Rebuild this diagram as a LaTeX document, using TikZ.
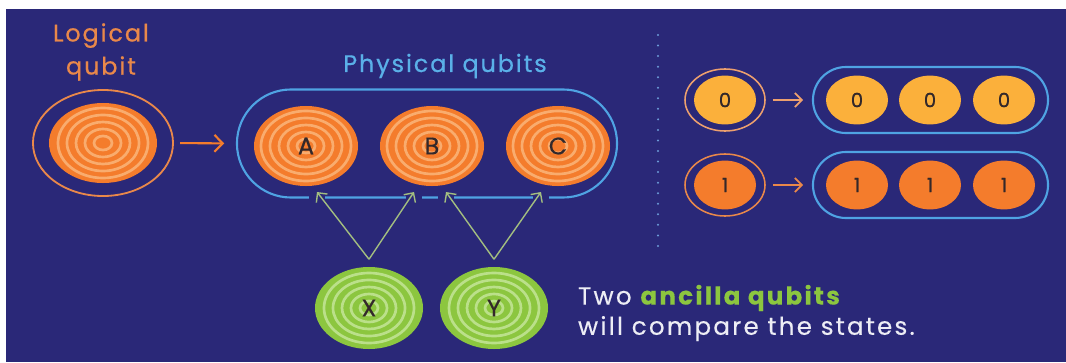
\documentclass[tikz,border=0pt]{standalone}
\usepackage{fontspec}
\setmainfont{Poppins}
\newfontfamily\widefont[LetterSpace=8,FakeBold=0.6]{Poppins}
\newfontfamily\notefont[LetterSpace=9,FakeBold=0.3]{Poppins}
\usetikzlibrary{shapes.geometric,shapes.misc,arrows.meta}
\definecolor{bgblue}{HTML}{2A2878}
\definecolor{qorange}{HTML}{F47C2C}
\definecolor{ringor}{HTML}{F9AC6E}
\definecolor{lorange}{HTML}{E9884A}
\definecolor{qgreen}{HTML}{8CC63F}
\definecolor{ringgr}{HTML}{BBE08A}
\definecolor{qyellow}{HTML}{FBB03B}
\definecolor{pblue}{HTML}{4FA3E3}
\definecolor{lblue}{HTML}{5AB0E8}
\definecolor{dotblue}{HTML}{6C9BD8}
\definecolor{arrgreen}{HTML}{A3BE80}
\definecolor{txtwhite}{HTML}{EDEDF5}
\definecolor{darktxt}{HTML}{33282A}
\begin{document}
\begin{tikzpicture}[x=0.025cm,y=-0.025cm,every node/.style={inner sep=0,outer sep=0},
	qubit/.style={ellipse,minimum width=2.6cm,minimum height=2cm,text=darktxt,font=\widefont\fontsize{17}{20}\selectfont},
	ringed/.style={path picture={\foreach \k in {1,...,5}
		\draw[#1,line width=1.9pt] (path picture bounding box.center) ellipse ({\k*0.225cm} and {\k*0.175cm});}},
	bit/.style={ellipse,minimum width=1.55cm,minimum height=1.22cm,text=darktxt,font=\widefont\fontsize{14}{16}\selectfont},
	stadium/.style={rounded rectangle,draw=pblue,line width=1.5pt},
	link/.style={-{Straight Barb[length=5pt,width=10pt]},line width=1.3pt}]
	\useasboundingbox (0,0) rectangle (1066,362);
	\fill[white] (0,0) rectangle (1066,362);
	\fill[bgblue] (6,9) rectangle (1066,362);
	% logical qubit
	\node[text=lorange,align=center,font=\widefont\fontsize{17}{23.5}\selectfont] (lqt) at (101,52) {Logical\\qubit};
	\node[ellipse,draw=lorange,line width=1.3pt,minimum width=3.5cm,minimum height=2.65cm] (lq) at (103,143) {};
	\node[qubit,fill=qorange,ringed=ringor,minimum width=2.7cm] (L) at (103,143) {};
	% physical qubits
	\node[text=lblue,font=\widefont\fontsize{17}{20}\selectfont] (pst) at (445,66) {Physical qubits};
	\node[stadium,minimum width=9.5cm,minimum height=2.7cm] (ps) at (427,143.5) {};
	\node[qubit,fill=qorange,ringed=ringor] (A) at (306,146) {A};
	\node[qubit,fill=qorange,ringed=ringor] (B) at (432,146) {B};
	\node[qubit,fill=qorange,ringed=ringor] (C) at (558,146) {C};
	\draw[link,qorange,line width=1.5pt,-{Straight Barb[length=6pt,width=12pt]},shorten <=5pt,shorten >=9pt] (lq.east) -- (ps.west);
	% ancilla qubits
	\node[qubit,fill=qgreen,ringed=ringgr,minimum width=2.7cm,minimum height=2.05cm] (X) at (369,308) {X};
	\node[qubit,fill=qgreen,ringed=ringgr,minimum width=2.7cm,minimum height=2.05cm] (Y) at (494,308) {Y};
	\foreach \g in {317,414,446,541}
		\draw[bgblue,line width=4pt] (\g-8,197) -- (\g+8,197);
	\coordinate (xt) at ([yshift=5.5pt]X.north);
	\coordinate (yt) at ([yshift=5.5pt]Y.north);
	\coordinate (xa) at (317,192);
	\coordinate (xb) at (414,192);
	\coordinate (yb) at (446,192);
	\coordinate (yc) at (541,192);
	\draw[link,arrgreen,line width=1pt] (xt) -- (xa);
	\draw[link,arrgreen,line width=1pt] (xt) -- (xb);
	\draw[link,arrgreen,line width=1pt] (yt) -- (yb);
	\draw[link,arrgreen,line width=1pt] (yt) -- (yc);
	\node[anchor=west,align=left,text=txtwhite,font=\notefont\fontsize{17.5}{21.5}\selectfont] (note) at (578,313)
		{Two \textcolor{qgreen}{\bfseries ancilla qubits}\\will compare the states.};
	% separator
	\draw[dotblue,line width=1.6pt,line cap=round,dash pattern=on 0pt off 7.5pt] (658,35) -- (658,248);
	% bit repetition
	\node[ellipse,draw=lorange!80!white,line width=1.1pt,minimum width=2cm,minimum height=1.55cm] (o0) at (725,100) {};
	\node[bit,fill=qyellow] (z0) at (725,100) {0};
	\node[stadium,minimum width=5.875cm,minimum height=1.65cm] (s0) at (930.5,100) {};
	\node[bit,fill=qyellow] (z1) at (857,100) {0};
	\node[bit,fill=qyellow] (z2) at (930,100) {0};
	\node[bit,fill=qyellow] (z3) at (1004,100) {0};
	\draw[link,lorange!80!white,shorten <=5.5pt,shorten >=7pt] (o0.east) -- (s0.west);
	\node[ellipse,draw=lorange,line width=1.1pt,minimum width=2cm,minimum height=1.55cm] (o1) at (725,185) {};
	\node[bit,fill=qorange] (u0) at (725,185) {1};
	\node[stadium,minimum width=5.875cm,minimum height=1.65cm] (s1) at (930.5,185) {};
	\node[bit,fill=qorange] (u1) at (857,185) {1};
	\node[bit,fill=qorange] (u2) at (930,185) {1};
	\node[bit,fill=qorange] (u3) at (1004,185) {1};
	\draw[link,lorange,shorten <=5.5pt,shorten >=7pt] (o1.east) -- (s1.west);
\end{tikzpicture}
\end{document}
